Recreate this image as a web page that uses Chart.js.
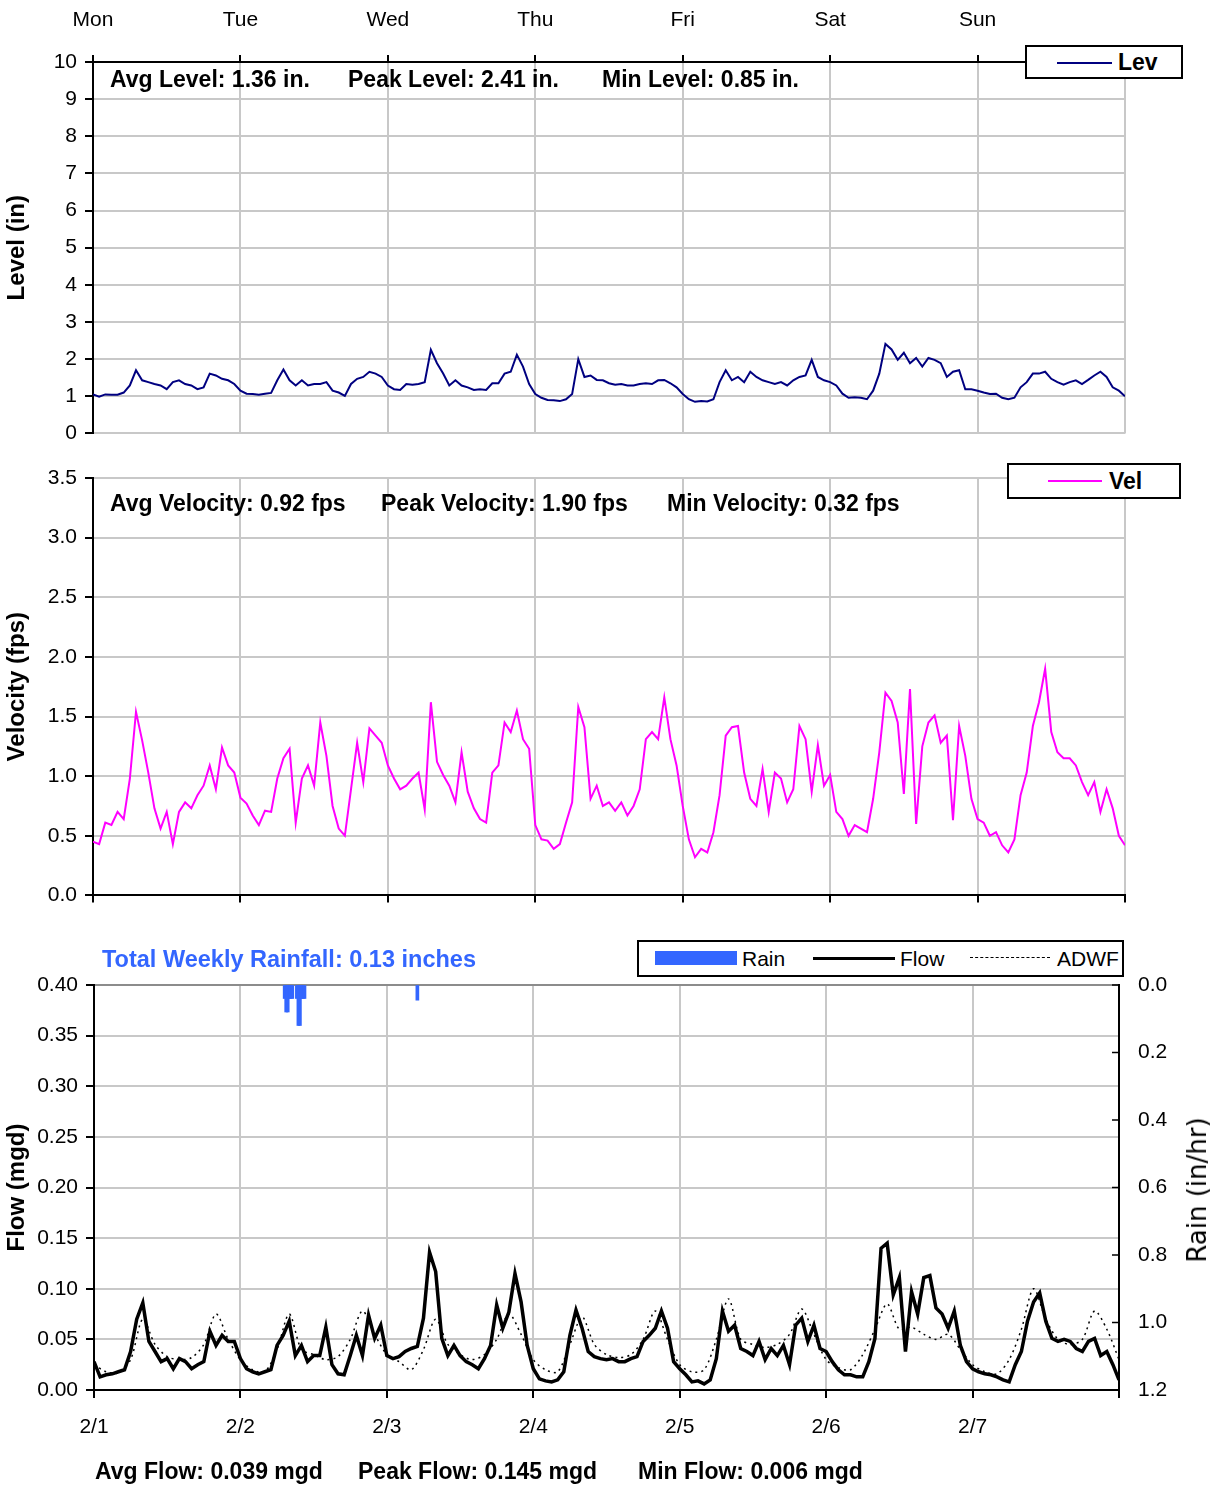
<!DOCTYPE html>
<html>
<head>
<meta charset="utf-8">
<script src="https://cdn.jsdelivr.net/npm/chart.js@4.4.0/dist/chart.umd.min.js"></script>
<style>
body { margin: 0; background: #fff; font-family: "Liberation Sans", Arial, sans-serif; }
#wrap { position: relative; width: 1213px; height: 1486px; overflow: hidden; }
canvas { position: absolute; left: 0; }
.stat { position: absolute; white-space: nowrap; font-weight: bold; font-size: 23px; line-height: 23px; color: #000; }
.box { position: absolute; border: 2px solid #000; background: #fff; box-sizing: border-box; }
.ln { position: absolute; height: 0; }
.lt { position: absolute; white-space: nowrap; font-size: 21px; line-height: 21px; color: #000; }
#rainTitle { position: absolute; left: 1197px; top: 1190px; white-space: nowrap; font-family: "DejaVu Sans", sans-serif; font-size: 26px; line-height: 26px; transform: translate(-50%, -50%) rotate(-90deg); }
</style>
</head>
<body>
<div id="wrap">
  <canvas id="levChart" width="1213" height="454" style="top:0"></canvas>
  <canvas id="velChart" width="1213" height="476" style="top:440px"></canvas>
  <canvas id="flowChart" width="1213" height="576" style="top:910px"></canvas>

  <div class="stat" style="left:110px;top:68px">Avg Level: 1.36 in.</div>
  <div class="stat" style="left:348px;top:68px">Peak Level: 2.41 in.</div>
  <div class="stat" style="left:602px;top:68px">Min Level: 0.85 in.</div>
  <div class="box" style="left:1025px;top:45px;width:158px;height:34px"></div>
  <div class="ln" style="left:1057px;top:62px;width:55px;border-top:2px solid #000080"></div>
  <div class="lt" style="left:1118px;top:51px;font-weight:bold;font-size:23px;line-height:23px">Lev</div>

  <div class="stat" style="left:110px;top:492px">Avg Velocity: 0.92 fps</div>
  <div class="stat" style="left:381px;top:492px">Peak Velocity: 1.90 fps</div>
  <div class="stat" style="left:667px;top:492px">Min Velocity: 0.32 fps</div>
  <div class="box" style="left:1007px;top:463px;width:174px;height:36px"></div>
  <div class="ln" style="left:1048px;top:480px;width:54px;border-top:2px solid #ff00ff"></div>
  <div class="lt" style="left:1109px;top:470px;font-weight:bold;font-size:23px;line-height:23px">Vel</div>

  <div class="stat" style="left:102px;top:948px;color:#3366ff;font-size:23.5px">Total Weekly Rainfall: 0.13 inches</div>
  <div class="box" style="left:637px;top:940px;width:487px;height:37px"></div>
  <div style="position:absolute;left:655px;top:951px;width:82px;height:14px;background:#3366ff"></div>
  <div class="lt" style="left:742px;top:948px">Rain</div>
  <div class="ln" style="left:813px;top:957px;width:82px;border-top:3px solid #000"></div>
  <div class="lt" style="left:900px;top:948px">Flow</div>
  <div class="ln" style="left:970px;top:957px;width:80px;border-top:1.5px dashed #000"></div>
  <div class="lt" style="left:1057px;top:948px">ADWF</div>
  <div id="rainTitle">Rain (in/hr)</div>

  <div class="stat" style="left:95px;top:1460px">Avg Flow: 0.039 mgd</div>
  <div class="stat" style="left:358px;top:1460px">Peak Flow: 0.145 mgd</div>
  <div class="stat" style="left:638px;top:1460px">Min Flow: 0.006 mgd</div>
</div>
<script>
// week of 2/1 - 2/7, hourly readings (hour 0 .. 168)
const dayNames = ['Mon', 'Tue', 'Wed', 'Thu', 'Fri', 'Sat', 'Sun'];
const dateNames = ['2/1', '2/2', '2/3', '2/4', '2/5', '2/6', '2/7'];

const levelIn = [
    1.05, 0.99, 1.05, 1.04, 1.04, 1.10, 1.29, 1.70, 1.43, 1.38, 1.33, 1.29, 1.19, 1.38, 1.43, 1.33, 1.29, 1.19, 1.24, 1.61, 1.56, 1.47, 1.43, 1.33, 1.15,
    1.07, 1.06, 1.04, 1.07, 1.09, 1.43, 1.72, 1.43, 1.29, 1.43, 1.29, 1.33, 1.33, 1.38, 1.15, 1.10, 1.01, 1.33, 1.47, 1.52, 1.66, 1.61, 1.52, 1.29,
    1.19, 1.17, 1.33, 1.31, 1.33, 1.38, 2.25, 1.89, 1.61, 1.29, 1.43, 1.29, 1.24, 1.17, 1.19, 1.17, 1.35, 1.35, 1.61, 1.66, 2.12, 1.80, 1.33, 1.06,
    0.96, 0.90, 0.89, 0.87, 0.92, 1.06, 2.00, 1.52, 1.56, 1.44, 1.43, 1.35, 1.31, 1.33, 1.29, 1.29, 1.33, 1.35, 1.33, 1.43, 1.44, 1.35, 1.24, 1.06,
    0.92, 0.85, 0.87, 0.86, 0.92, 1.38, 1.70, 1.43, 1.52, 1.38, 1.66, 1.52, 1.43, 1.38, 1.33, 1.38, 1.29, 1.43, 1.52, 1.56, 1.98, 1.52, 1.43, 1.38,
    1.29, 1.07, 0.96, 0.97, 0.96, 0.92, 1.15, 1.61, 2.41, 2.26, 1.98, 2.17, 1.89, 2.03, 1.80, 2.03, 1.98, 1.89, 1.52, 1.66, 1.70, 1.19, 1.19, 1.15,
    1.10, 1.06, 1.07, 0.96, 0.92, 0.96, 1.24, 1.38, 1.61, 1.61, 1.66, 1.47, 1.38, 1.31, 1.38, 1.43, 1.33, 1.44, 1.56, 1.66, 1.52, 1.24, 1.15, 1.00
];

const velocityFps = [
    0.45, 0.43, 0.61, 0.59, 0.70, 0.64, 0.98, 1.54, 1.30, 1.03, 0.73, 0.56, 0.70, 0.43, 0.70, 0.78, 0.73, 0.84, 0.92, 1.09, 0.89, 1.24, 1.09, 1.03, 0.82,
    0.77, 0.67, 0.59, 0.71, 0.70, 0.98, 1.15, 1.23, 0.61, 0.98, 1.09, 0.92, 1.45, 1.17, 0.75, 0.56, 0.50, 0.89, 1.28, 0.95, 1.40, 1.34, 1.28, 1.09,
    0.98, 0.89, 0.92, 0.98, 1.03, 0.72, 1.62, 1.12, 1.01, 0.92, 0.78, 1.20, 0.87, 0.73, 0.64, 0.61, 1.03, 1.09, 1.45, 1.37, 1.55, 1.31, 1.23, 0.59,
    0.47, 0.46, 0.39, 0.43, 0.61, 0.78, 1.58, 1.41, 0.81, 0.92, 0.75, 0.78, 0.71, 0.78, 0.67, 0.75, 0.89, 1.31, 1.37, 1.31, 1.66, 1.31, 1.09, 0.75,
    0.47, 0.32, 0.39, 0.36, 0.53, 0.84, 1.34, 1.41, 1.42, 1.03, 0.81, 0.75, 1.06, 0.70, 1.03, 0.98, 0.78, 0.89, 1.42, 1.31, 0.87, 1.26, 0.92, 1.01,
    0.70, 0.64, 0.50, 0.59, 0.56, 0.53, 0.81, 1.20, 1.70, 1.63, 1.45, 0.85, 1.73, 0.60, 1.25, 1.45, 1.51, 1.28, 1.34, 0.63, 1.42, 1.17, 0.81, 0.64,
    0.61, 0.50, 0.53, 0.42, 0.36, 0.47, 0.84, 1.03, 1.42, 1.62, 1.90, 1.37, 1.20, 1.15, 1.15, 1.09, 0.95, 0.84, 0.95, 0.70, 0.89, 0.73, 0.50, 0.42
];

const flowMgd = [
    0.028, 0.013, 0.015, 0.016, 0.018, 0.020, 0.038, 0.070, 0.086, 0.048, 0.038, 0.028, 0.031, 0.021, 0.031, 0.028, 0.021, 0.025, 0.028, 0.058, 0.044, 0.054, 0.048, 0.048, 0.031,
    0.021, 0.018, 0.016, 0.018, 0.020, 0.044, 0.054, 0.068, 0.034, 0.044, 0.028, 0.034, 0.034, 0.062, 0.025, 0.016, 0.015, 0.034, 0.054, 0.034, 0.074, 0.051, 0.064, 0.034,
    0.031, 0.033, 0.038, 0.041, 0.043, 0.071, 0.136, 0.117, 0.051, 0.034, 0.044, 0.034, 0.028, 0.025, 0.021, 0.031, 0.044, 0.084, 0.061, 0.077, 0.115, 0.087, 0.044, 0.021,
    0.011, 0.009, 0.008, 0.010, 0.018, 0.054, 0.079, 0.061, 0.038, 0.033, 0.031, 0.030, 0.031, 0.028, 0.028, 0.031, 0.033, 0.048, 0.054, 0.061, 0.078, 0.061, 0.028, 0.021,
    0.015, 0.008, 0.009, 0.006, 0.010, 0.031, 0.078, 0.058, 0.064, 0.041, 0.038, 0.034, 0.048, 0.030, 0.041, 0.034, 0.044, 0.025, 0.064, 0.071, 0.048, 0.064, 0.041, 0.038,
    0.028, 0.020, 0.015, 0.015, 0.013, 0.013, 0.028, 0.051, 0.140, 0.145, 0.094, 0.111, 0.038, 0.097, 0.075, 0.111, 0.113, 0.081, 0.075, 0.061, 0.078, 0.044, 0.028, 0.021,
    0.018, 0.016, 0.015, 0.013, 0.010, 0.008, 0.025, 0.038, 0.068, 0.087, 0.096, 0.068, 0.051, 0.048, 0.050, 0.048, 0.041, 0.038, 0.048, 0.051, 0.034, 0.038, 0.025, 0.010
];

// ADWF every 2 hours
const adwfMgd = [
    0.025, 0.018, 0.017, 0.030, 0.070, 0.045, 0.033, 0.030, 0.032, 0.045, 0.075, 0.050,
    0.030, 0.020, 0.018, 0.040, 0.075, 0.040, 0.035, 0.030, 0.033, 0.050, 0.078, 0.055,
    0.035, 0.028, 0.020, 0.040, 0.070, 0.045, 0.035, 0.030, 0.035, 0.050, 0.075, 0.055,
    0.030, 0.020, 0.018, 0.045, 0.072, 0.045, 0.035, 0.032, 0.035, 0.050, 0.078, 0.050,
    0.025, 0.018, 0.020, 0.050, 0.090, 0.050, 0.045, 0.042, 0.045, 0.055, 0.080, 0.055,
    0.030, 0.022, 0.020, 0.035, 0.060, 0.085, 0.060, 0.062, 0.055, 0.050, 0.055, 0.040,
    0.025, 0.018, 0.016, 0.030, 0.060, 0.100, 0.070, 0.050, 0.045, 0.050, 0.078, 0.060,
    0.030
];

const rainHours = [31.25, 31.5, 31.75, 32.0, 32.25, 32.5, 33.25, 33.5, 33.75, 34.0, 34.25, 34.5, 53.0];
const rainInHr = [0.04, 0.08, 0.08, 0.04, 0.04, 0.04, 0.04, 0.12, 0.12, 0.04, 0.04, 0.04, 0.045];

Chart.defaults.font.family = '"Liberation Sans", Arial, sans-serif';
Chart.defaults.color = '#000';

function points(vals, step) {
    return vals.map((v, i) => ({ x: i * step, y: v }));
}

const gridGrey = '#c8c8c8';
const tickFont = { size: 21 };

function dayAxis(position, labels, height, tickLen, pad) {
    return {
        type: 'linear',
        position: position,
        min: 0,
        max: 168,
        offset: false,
        ticks: {
            stepSize: 24,
            autoSkip: false,
            maxRotation: 0,
            padding: pad,
            font: tickFont,
            callback: v => (labels ? (labels[v / 24] || '') : '')
        },
        grid: { color: gridGrey, lineWidth: 2, tickColor: '#000', tickWidth: 2, tickLength: tickLen, offset: false },
        border: { color: '#000', width: 2 },
        afterFit: s => { s.height = height; }
    };
}

function valueAxis(min, max, step, digits, title, width) {
    return {
        min: min,
        max: max,
        ticks: { stepSize: step, padding: 8, font: tickFont, callback: v => v.toFixed(digits) },
        grid: { color: gridGrey, lineWidth: 2, tickColor: '#000', tickWidth: 2, tickLength: 8 },
        border: { color: '#000', width: 2 },
        title: { display: true, text: title, font: { size: 24, weight: 'bold' }, padding: { top: 3, bottom: 0 } },
        afterFit: s => { s.width = width; }
    };
}

const common = {
    responsive: false,
    animation: false,
    plugins: { legend: { display: false }, tooltip: { enabled: false } }
};

// Level
new Chart(document.getElementById('levChart'), {
    type: 'line',
    data: {
        datasets: [{
            label: 'Lev',
            data: points(levelIn, 1),
            borderColor: '#000080',
            borderWidth: 2,
            pointRadius: 0,
            tension: 0
        }]
    },
    options: {
        ...common,
        layout: { padding: { left: 0, right: 88, top: 0, bottom: 0 } },
        scales: {
            x: dayAxis('top', dayNames, 62, 7, 22),
            y: valueAxis(0, 10, 1, 0, 'Level (in)', 93)
        }
    }
});

// Velocity
new Chart(document.getElementById('velChart'), {
    type: 'line',
    data: {
        datasets: [{
            label: 'Vel',
            data: points(velocityFps, 1),
            borderColor: '#ff00ff',
            borderWidth: 2,
            pointRadius: 0,
            tension: 0
        }]
    },
    options: {
        ...common,
        layout: { padding: { left: 0, right: 88, top: 38, bottom: 0 } },
        scales: {
            x: dayAxis('bottom', null, 15, 7, 0),
            y: valueAxis(0, 3.5, 0.5, 1, 'Velocity (fps)', 93)
        }
    }
});

// inward tick marks on the rain axis
const rainTicks = {
    id: 'rainTicks',
    afterDraw(chart) {
        const s = chart.scales.rain;
        const ctx = chart.ctx;
        ctx.save();
        ctx.strokeStyle = '#000';
        ctx.lineWidth = 1.5;
        s.ticks.forEach(t => {
            const y = s.getPixelForValue(t.value);
            ctx.beginPath();
            ctx.moveTo(s.left, y);
            ctx.lineTo(s.left - 7, y);
            ctx.stroke();
        });
        ctx.restore();
    }
};

// Flow and rain
const flowY = valueAxis(0, 0.4, 0.05, 2, 'Flow (mgd)', 94);
flowY.grid.color = c => (Math.abs(c.tick.value - 0.4) < 1e-6 ? '#8c8c8c' : gridGrey);

new Chart(document.getElementById('flowChart'), {
    type: 'line',
    data: {
        datasets: [
            {
                type: 'bar',
                label: 'Rain',
                data: rainHours.map((h, i) => ({ x: h, y: rainInHr[i] })),
                backgroundColor: '#3366ff',
                barThickness: 3,
                yAxisID: 'rain',
                order: 0
            },
            {
                label: 'Flow',
                data: points(flowMgd, 1),
                borderColor: '#000',
                borderWidth: 3.5,
                pointRadius: 0,
                tension: 0,
                yAxisID: 'y',
                order: 1
            },
            {
                label: 'ADWF',
                data: points(adwfMgd, 2),
                borderColor: '#000',
                borderWidth: 1.5,
                borderDash: [2, 4],
                pointRadius: 0,
                tension: 0.3,
                yAxisID: 'y',
                order: 2
            }
        ]
    },
    options: {
        ...common,
        layout: { padding: { left: 0, right: 0, top: 75, bottom: 0 } },
        scales: {
            x: dayAxis('bottom', dateNames, 96, 8, 17),
            y: flowY,
            rain: {
                position: 'right',
                reverse: true,
                min: 0,
                max: 1.2,
                ticks: { stepSize: 0.2, padding: 19, font: tickFont, callback: v => v.toFixed(1) },
                grid: { drawOnChartArea: false, drawTicks: false },
                border: { color: '#000', width: 2 },
                afterFit: s => { s.width = 94; }
            }
        }
    },
    plugins: [rainTicks]
});
</script>
</body>
</html>
